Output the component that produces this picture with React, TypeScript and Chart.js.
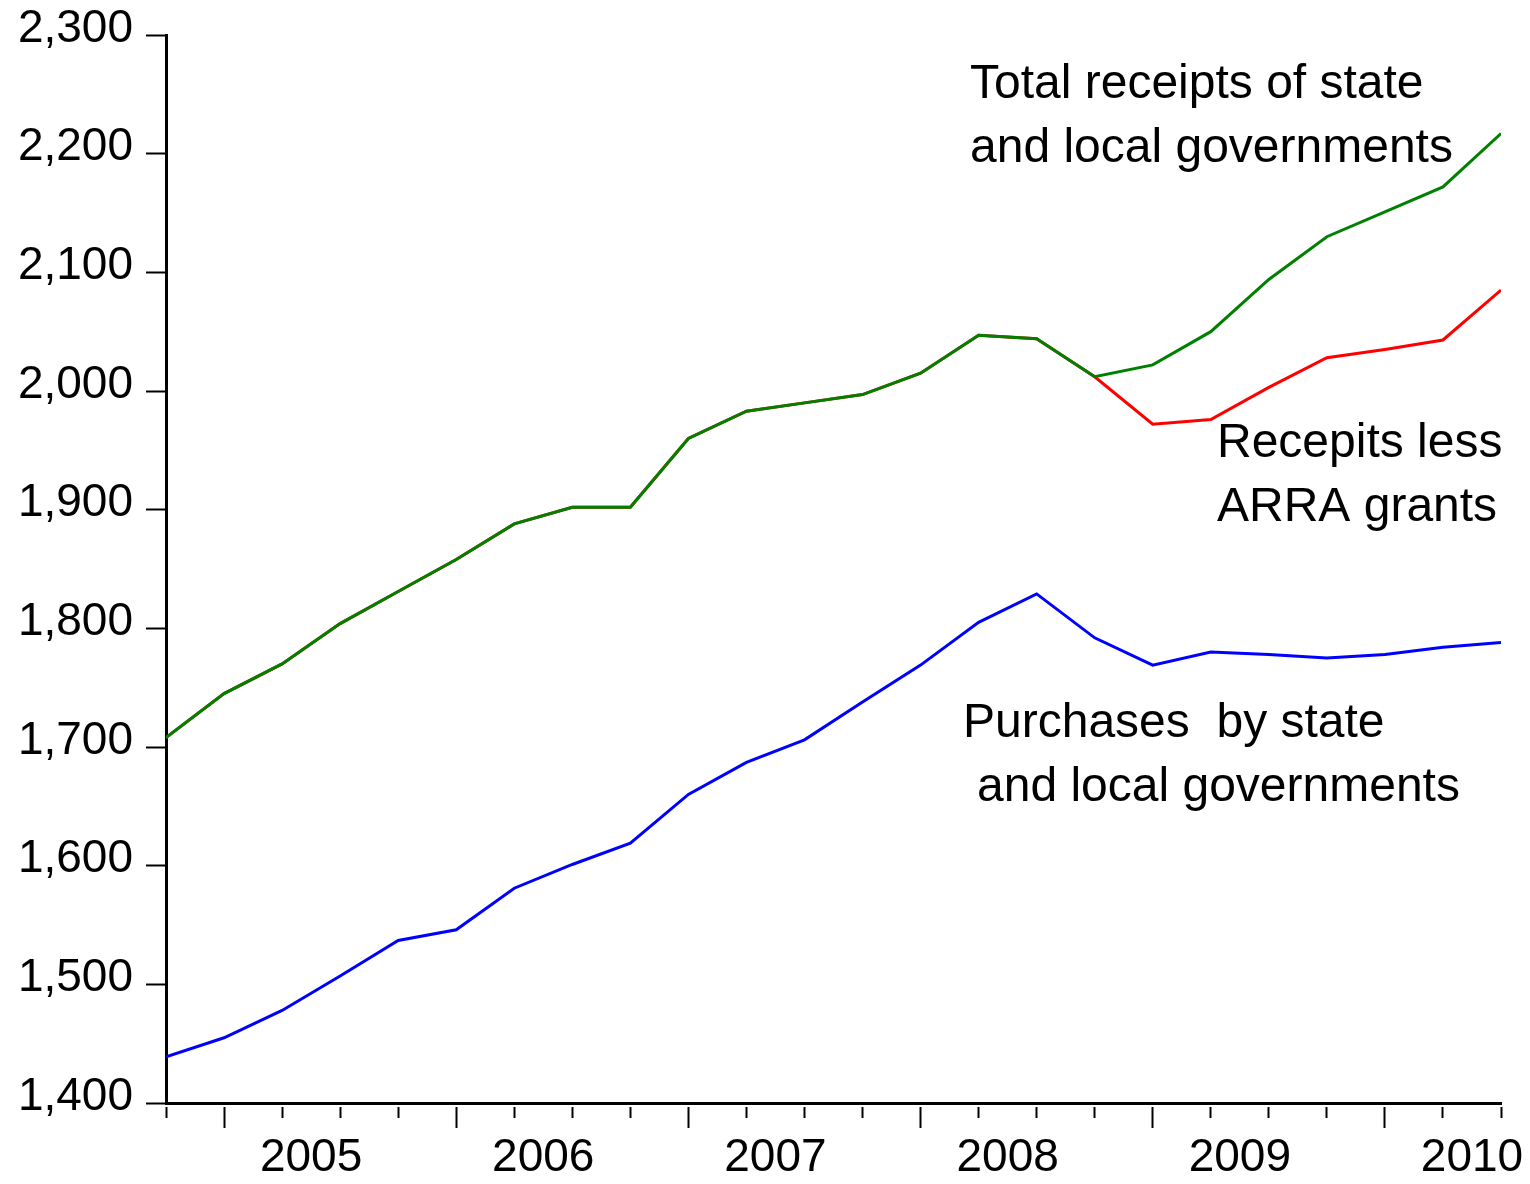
import React, { useEffect, useRef } from 'react';
import { Chart, registerables } from 'chart.js';

Chart.register(...registerables);

// Quarterly observations, 2004Q4 .. 2010Q3 (billions of dollars, SAAR)
const quarters = [
  '2004Q4',
  '2005Q1', '2005Q2', '2005Q3', '2005Q4',
  '2006Q1', '2006Q2', '2006Q3', '2006Q4',
  '2007Q1', '2007Q2', '2007Q3', '2007Q4',
  '2008Q1', '2008Q2', '2008Q3', '2008Q4',
  '2009Q1', '2009Q2', '2009Q3', '2009Q4',
  '2010Q1', '2010Q2', '2010Q3',
];

const totalReceipts = [
  1708, 1745, 1770, 1804, 1831, 1858, 1888, 1902, 1902, 1960, 1983, 1990,
  1997, 2015, 2047, 2044, 2012, 2022, 2050, 2094, 2130, 2151, 2172, 2217,
];

const receiptsLessArra = [
  1708, 1745, 1770, 1804, 1831, 1858, 1888, 1902, 1902, 1960, 1983, 1990,
  1997, 2015, 2047, 2044, 2012, 1972, 1976, 2003, 2028, 2035, 2043, 2085,
];

const purchases = [
  1439, 1455, 1478, 1507, 1537, 1546, 1581, 1601, 1619, 1660, 1687, 1706,
  1738, 1769, 1805, 1829, 1792, 1769, 1780, 1778, 1775, 1778, 1784, 1788,
];

const yMin = 1400;
const yMax = 2300;
const yStep = 100;

const annotations = [
  { text: 'Total receipts of state', x: 970, y: 98 },
  { text: 'and local governments', x: 970, y: 162 },
  { text: 'Recepits less', x: 1217, y: 457 },
  { text: 'ARRA grants', x: 1217, y: 521 },
  { text: 'Purchases  by state', x: 963, y: 737 },
  { text: 'and local governments', x: 977, y: 801 },
];

const FONT = '"Liberation Sans", Arial, Helvetica, sans-serif';

export default function App() {
  const canvasRef = useRef<HTMLCanvasElement | null>(null);

  useEffect(() => {
    document.body.style.margin = '0';
    document.body.style.overflow = 'hidden';
    const canvas = canvasRef.current;
    if (!canvas) return;

    const idx = quarters.map((_, i) => i);
    // year labels centred on each calendar year's four quarters
    const yearCentres: Record<string, string> = {};
    const majorIdx = new Set<number>();
    quarters.forEach((q, i) => {
      if (q.endsWith('Q1')) {
        majorIdx.add(i);
        yearCentres[String(i + 1.5)] = q.slice(0, 4);
      }
    });
    const xTickValues = [
      ...idx,
      ...Object.keys(yearCentres).map(Number),
    ].sort((a, b) => a - b);

    const annotationPlugin = {
      id: 'annotations',
      afterDraw(chart: any) {
        const ctx = chart.ctx;
        ctx.save();
        ctx.font = `48px ${FONT}`;
        ctx.fillStyle = '#000';
        ctx.textAlign = 'left';
        ctx.textBaseline = 'alphabetic';
        annotations.forEach((a) => ctx.fillText(a.text, a.x, a.y));
        ctx.restore();
      },
    };

    const chart = new Chart(canvas, {
      type: 'line',
      data: {
        datasets: [
          {
            label: 'Total receipts of state and local governments',
            data: idx.map((i) => ({ x: i, y: totalReceipts[i] })),
            borderColor: '#008000',
            borderWidth: 3,
            pointRadius: 0,
            tension: 0,
            order: 0,
          },
          {
            label: 'Recepits less ARRA grants',
            data: idx.map((i) => ({ x: i, y: receiptsLessArra[i] })),
            borderColor: '#ff0000',
            borderWidth: 3,
            pointRadius: 0,
            tension: 0,
            order: 1,
          },
          {
            label: 'Purchases by state and local governments',
            data: idx.map((i) => ({ x: i, y: purchases[i] })),
            borderColor: '#0000ff',
            borderWidth: 3,
            pointRadius: 0,
            tension: 0,
            order: 2,
          },
        ],
      },
      options: {
        responsive: false,
        animation: false,
        layout: { padding: { top: 35, right: 29, bottom: 0, left: 0 } },
        plugins: {
          legend: { display: false },
          tooltip: { enabled: false },
          title: { display: false },
        },
        scales: {
          x: {
            type: 'linear',
            position: 'bottom',
            min: 0,
            max: quarters.length - 1,
            afterBuildTicks: (scale: any) => {
              scale.ticks = xTickValues.map((v) => ({ value: v }));
            },
            afterFit: (scale: any) => {
              scale.height = 81;
            },
            border: { display: true, color: '#000', width: 3 },
            grid: {
              display: true,
              drawOnChartArea: false,
              drawTicks: true,
              tickLength: 25,
              tickColor: '#000',
              tickWidth: (c: any) =>
                c.tick && Number.isInteger(c.tick.value) ? 2 : 0,
              tickBorderDash: (c: any) =>
                c.tick && majorIdx.has(c.tick.value) ? [22, 100] : [11, 100],
              tickBorderDashOffset: (c: any) =>
                c.tick && majorIdx.has(c.tick.value) ? 120 : 109,
            },
            ticks: {
              autoSkip: false,
              maxRotation: 0,
              minRotation: 0,
              padding: 3,
              color: '#000',
              font: { family: FONT, size: 46 },
              callback: (v: any) => yearCentres[String(v)] ?? '',
            },
          },
          y: {
            type: 'linear',
            position: 'left',
            min: yMin,
            max: yMax,
            afterFit: (scale: any) => {
              scale.width = 166;
              scale.paddingTop = 0;
              scale.paddingBottom = 0;
            },
            border: { display: true, color: '#000', width: 3 },
            grid: {
              display: true,
              drawOnChartArea: false,
              drawTicks: true,
              tickLength: 20,
              tickColor: '#000',
              tickWidth: 2,
            },
            ticks: {
              stepSize: yStep,
              padding: 13,
              labelOffset: -6,
              color: '#000',
              font: { family: FONT, size: 46, lineHeight: 0.9 },
              callback: (v: any) => Number(v).toLocaleString('en-US'),
            },
          },
        },
      },
      plugins: [annotationPlugin],
    });

    return () => chart.destroy();
  }, []);

  return (
    <div style={{ width: 1530, height: 1184 }}>
      <canvas
        ref={canvasRef}
        width={1530}
        height={1184}
        style={{ display: 'block', width: 1530, height: 1184 }}
      />
    </div>
  );
}
